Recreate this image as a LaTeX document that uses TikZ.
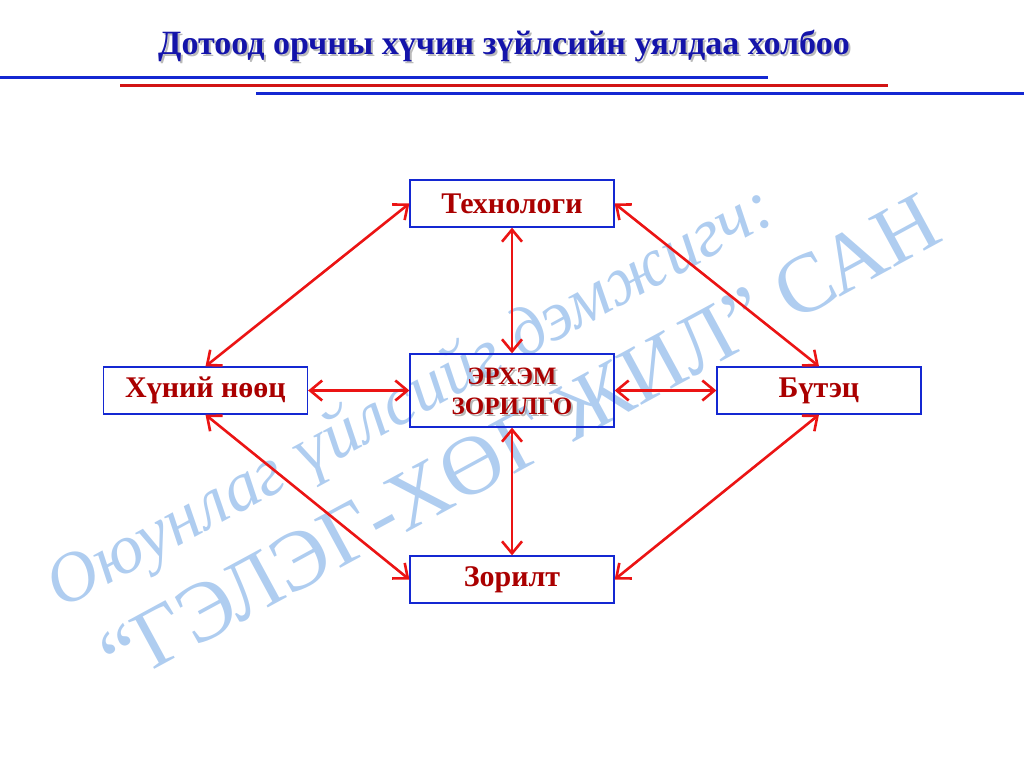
\documentclass[tikz,border=0pt]{standalone}
\usepackage{fontspec}
\setmainfont{Liberation Serif}
\usetikzlibrary{arrows.meta,shadows}
\definecolor{titleblue}{RGB}{20,20,170}
\definecolor{boxred}{RGB}{170,0,0}
\definecolor{linkred}{RGB}{235,20,20}
\definecolor{lineblue}{RGB}{20,40,210}
\definecolor{linered}{RGB}{210,20,20}
\definecolor{wmblue}{RGB}{175,205,240}
\tikzset{
  box/.style={draw=lineblue, line width=1.3pt, minimum width=204pt, minimum height=47pt, inner sep=0pt,
    font=\fontsize{30}{32}\selectfont\bfseries, text=boxred},
  link/.style={draw=linkred, line width=2.6pt, {Straight Barb[length=12pt,width=20pt]}-{Straight Barb[length=12pt,width=20pt]}},
  rule/.style={line width=3pt},
  wm/.style={text=wmblue, rotate=28.5, inner sep=0pt}
}
\begin{document}
\begin{tikzpicture}[x=1pt,y=-1pt]
\useasboundingbox (0,0) rectangle (1024,768);
% title
\node[font=\fontsize{34}{36}\selectfont\bfseries, text=black!45, opacity=0.6] at (506,48) {Дотоод орчны хүчин зүйлсийн уялдаа холбоо};
\node (title) [font=\fontsize{34}{36}\selectfont\bfseries, text=titleblue] at (504,46) {Дотоод орчны хүчин зүйлсийн уялдаа холбоо};
\draw[rule, lineblue] (0,77) -- (768,77);
\draw[rule, linered] (120,85) -- (888,85);
\draw[rule, lineblue] (256,93) -- (1024,93);
% watermark
\node (wm1) [wm, font=\fontsize{70}{72}\selectfont\itshape] at (412,400) {Оюунлаг үйлсийг дэмжигч:};
\node (wm2) [wm, font=\fontsize{84}{86}\selectfont] at (520,440) {“ГЭЛЭГ-ХӨГ ЖИЛ” САН};
% boxes
\node (tech) [box] at (512,203.5) {Технологи};
\node (hr) [box] at (205.5,390.5) {Хүний нөөц};
\node (goal) [box, minimum height=73pt] at (512,390.5) {};
\node at (514,393) [font=\fontsize{25}{30}\selectfont\bfseries, text=black!40, align=center, opacity=0.7] {ЭРХЭМ\\ЗОРИЛГО};
\node (goaltxt) at (512,391) [font=\fontsize{25}{30}\selectfont\bfseries, text=boxred, align=center] {ЭРХЭМ\\ЗОРИЛГО};
\node (str) [box] at (819,390.5) {Бүтэц};
\node (obj) [box] at (512,579.5) {Зорилт};
% links
\draw[link] (hr.north) -- (tech.west);
\draw[link] (tech.east) -- (str.north);
\draw[link] (hr.south) -- (obj.west);
\draw[link] (str.south) -- (obj.east);
\draw[link] (tech.south) -- (goal.north);
\draw[link] (goal.south) -- (obj.north);
\draw[link] (hr.east) -- (goal.west);
\draw[link] (goal.east) -- (str.west);
\end{tikzpicture}
\end{document}
